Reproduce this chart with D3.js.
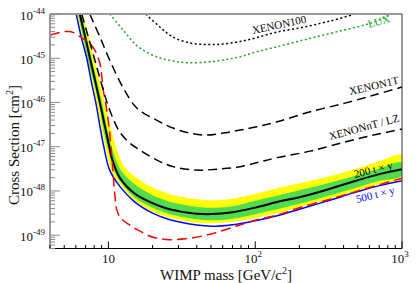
<!DOCTYPE html>
<html>
<head>
<meta charset="utf-8">
<script src="https://cdn.jsdelivr.net/npm/d3@7"></script>
<style>
  html, body { margin: 0; padding: 0; background: #fff; }
  svg { display: block; font-family: "Liberation Serif", "DejaVu Serif", serif; }
</style>
</head>
<body>
<div id="chart"></div>
<script>
// --- data (mass in GeV/c^2, cross section in cm^2) ---
const medianMass = [6.38, 6.96, 7.49, 8.14, 8.74, 9.45, 10.14, 10.55, 12, 15, 20, 25, 30, 40, 50, 70, 100, 150, 200, 300, 500, 700, 1000];
const medianSigma = [1e-44, 3e-45, 1e-45, 3e-46, 1e-46, 3e-47, 1e-47, 5.5e-48, 1.95e-48, 8.9e-49, 5.3e-49, 4.0e-49, 3.5e-49, 3.06e-49, 3.0e-49, 3.3e-49, 4.2e-49, 5.9e-49, 7.2e-49, 1.04e-48, 1.75e-48, 2.4e-48, 3.1e-48];

const blueMass = [6.04, 6.53, 7.12, 7.64, 8.20, 8.74, 9.30, 10.2, 12, 15, 20, 25, 30, 40, 50, 70, 100, 150, 200, 300, 500, 700, 1000];
const blueSigma = [1e-44, 3e-45, 1e-45, 3e-46, 1e-46, 3e-47, 1e-47, 2.96e-48, 1.25e-48, 5.75e-49, 3.15e-49, 2.36e-49, 2.02e-49, 1.70e-49, 1.60e-49, 1.73e-49, 2.13e-49, 2.91e-49, 3.87e-49, 5.73e-49, 9.64e-49, 1.32e-48, 1.71e-48];

const yellowUpMass = [6.69, 7.46, 8.33, 9.30, 10.38, 11.41, 12.94, 15, 20, 25, 30, 40, 50, 70, 100, 150, 200, 300, 500, 700, 1000];
const yellowUpSigma = [1e-44, 2.58e-45, 5.41e-46, 1.13e-46, 2.64e-47, 8.38e-48, 3.45e-48, 2.16e-48, 1.19e-48, 8.9e-49, 7.63e-49, 6.52e-49, 6.19e-49, 6.70e-49, 8.69e-49, 1.22e-48, 1.50e-48, 2.05e-48, 3.28e-48, 4.72e-48, 6.46e-48];
const yellowLowMass = [6.13, 6.79, 7.58, 8.33, 9.02, 9.60, 10.55, 12, 15, 20, 25, 30, 40, 50, 70, 100, 150, 200, 300, 500, 700, 1000];
const yellowLowSigma = [1e-44, 1.99e-45, 3.96e-46, 9.7e-47, 2.38e-47, 9.3e-48, 2.66e-48, 1.43e-48, 6.19e-49, 3.40e-49, 2.62e-49, 2.24e-49, 1.92e-49, 1.87e-49, 2.02e-49, 2.49e-49, 3.31e-49, 4.30e-49, 6.19e-49, 1.02e-48, 1.43e-48, 1.90e-48];

const greenUpMass = [6.53, 7.23, 8.08, 9.02, 9.91, 10.89, 12.15, 15, 20, 25, 30, 40, 50, 70, 100, 150, 200, 300, 500, 700, 1000];
const greenUpSigma = [1e-44, 2.33e-45, 4.87e-46, 1.02e-46, 2.14e-47, 6.81e-48, 2.96e-48, 1.43e-48, 8.04e-49, 6.04e-49, 5.16e-49, 4.42e-49, 4.19e-49, 4.53e-49, 6.04e-49, 8.24e-49, 1.04e-48, 1.43e-48, 2.28e-48, 3.20e-48, 4.37e-48];
const greenLowMass = [6.23, 6.90, 7.70, 8.60, 9.30, 10.06, 11.06, 12, 15, 20, 25, 30, 40, 50, 70, 100, 150, 200, 300, 500, 700, 1000];
const greenLowSigma = [1e-44, 1.99e-45, 4.17e-46, 9.7e-47, 2.14e-47, 7.55e-48, 2.66e-48, 1.67e-48, 7.24e-49, 4.19e-49, 3.15e-49, 2.69e-49, 2.30e-49, 2.18e-49, 2.36e-49, 2.99e-49, 4.08e-49, 5.16e-49, 7.43e-49, 1.22e-48, 1.71e-48, 2.22e-48];

const redMass = [4.0, 5.45, 6.69, 7.46, 8.08, 8.74, 9.02, 9.23, 9.67, 10.06, 10.38, 10.72, 11.06, 11.41, 12.15, 14.0, 16.4, 20.1, 26.2, 35.9, 49.2, 67.4, 100, 148, 200, 324, 520, 1000];
const redSigma = [3.35e-45, 4.02e-45, 2.79e-45, 2.15e-45, 1.53e-45, 7.79e-46, 3.76e-46, 1.91e-46, 7.87e-47, 3.08e-47, 1.09e-47, 2.96e-48, 8.04e-49, 3.68e-49, 2.43e-49, 1.68e-49, 1.23e-49, 9.0e-50, 7.91e-50, 8.55e-50, 1.05e-49, 1.44e-49, 2.18e-49, 2.99e-49, 4.19e-49, 6.52e-49, 1.04e-48, 1.95e-48];

const xenon100Mass = [18.0, 22.4, 27.5, 35.9, 47.0, 60.4, 78.9, 103, 141, 216, 324, 481];
const xenon100Sigma = [1e-44, 5.08e-45, 3.02e-45, 2.21e-45, 2.04e-45, 2.10e-45, 2.39e-45, 2.94e-45, 3.92e-45, 5.08e-45, 6.95e-45, 1e-44];

const luxMass = [10.2, 12.6, 15.95, 21.3, 27.5, 34.1, 46.7, 60.4, 78.9, 102.5, 141, 237, 403, 608, 860];
const luxSigma = [1e-44, 4.35e-45, 1.82e-45, 1.08e-45, 8.65e-46, 7.91e-46, 8.2e-46, 9.1e-46, 1.08e-45, 1.40e-45, 1.82e-45, 2.82e-45, 4.35e-45, 6.16e-45, 1e-44];

const xenon1tMass = [7.46, 8.74, 10.2, 12.5, 15.6, 21.3, 27.5, 35.9, 46.7, 60.4, 78.9, 102.5, 141, 237, 403, 645, 1000];
const xenon1tSigma = [1e-44, 3.06e-45, 9.1e-46, 2.26e-46, 7.47e-47, 4.0e-47, 2.64e-47, 2.03e-47, 1.83e-47, 2.03e-47, 2.38e-47, 2.82e-47, 3.66e-47, 6.16e-47, 9.55e-47, 1.47e-46, 2.23e-46];

const xenonntMass = [6.58, 7.23, 8.08, 9.02, 10.2, 11.96, 14.0, 16.4, 21.4, 27.5, 40.1, 55.0, 78.9, 108, 141, 237, 405, 638, 1000];
const xenonntSigma = [1e-44, 3.35e-45, 9.1e-46, 2.48e-46, 6.73e-47, 2.14e-47, 1.21e-47, 8.38e-48, 4.98e-48, 3.55e-48, 2.96e-48, 3.11e-48, 3.51e-48, 4.55e-48, 5.67e-48, 7.94e-48, 1.27e-47, 1.83e-47, 2.50e-47];

const xTickValues = [10, 100, 1000];
const xTickExp = ['', '2', '3'];
const yTickValues = [1e-44, 1e-45, 1e-46, 1e-47, 1e-48, 1e-49];
const yTickExp = ['-44', '-45', '-46', '-47', '-48', '-49'];

// --- chart ---
const W = 417, H = 283;
const margin = { top: 14, right: 15, bottom: 34.5, left: 50 };

const svg = d3.select('#chart').append('svg')
  .attr('width', W)
  .attr('height', H);

const x = d3.scaleLog().domain([4, 1000]).range([margin.left, W - margin.right]);
const y = d3.scaleLog().domain([5e-50, 1e-44]).range([H - margin.bottom, margin.top]);

svg.append('defs').append('clipPath')
  .attr('id', 'plotClip')
  .append('rect')
  .attr('x', margin.left).attr('y', margin.top)
  .attr('width', x.range()[1] - margin.left)
  .attr('height', y.range()[0] - margin.top);

const plot = svg.append('g').attr('clip-path', 'url(#plotClip)');

const zip = (m, s) => m.map((d, i) => [d, s[i]]);
const line = d3.line().x(d => x(d[0])).y(d => y(d[1])).curve(d3.curveCatmullRom.alpha(0.5));

// bands: upper edge then lower edge reversed
function band(upM, upS, lowM, lowS, color) {
  const pts = zip(upM, upS).concat(zip(lowM, lowS).reverse());
  plot.append('path')
    .datum(pts)
    .attr('fill', color)
    .attr('stroke', 'none')
    .attr('d', d => line(d) + 'Z');
}
band(yellowUpMass, yellowUpSigma, yellowLowMass, yellowLowSigma, '#ffff00');
band(greenUpMass, greenUpSigma, greenLowMass, greenLowSigma, '#4fdc4f');

function curve(m, s, color, w, dash) {
  plot.append('path')
    .datum(zip(m, s))
    .attr('fill', 'none')
    .attr('stroke', color)
    .attr('stroke-width', w)
    .attr('stroke-dasharray', dash || null)
    .attr('d', line);
}
curve(medianMass, medianSigma, '#000', 2);
curve(blueMass, blueSigma, '#0000ff', 1.5);
curve(redMass, redSigma, '#ff0000', 1.5, '10,5');
curve(xenon100Mass, xenon100Sigma, '#000', 1.5, '2,2.5');
curve(luxMass, luxSigma, '#22a822', 1.5, '2,2.5');
curve(xenon1tMass, xenon1tSigma, '#000', 1.5, '9,5');
curve(xenonntMass, xenonntSigma, '#000', 1.5, '9,5');

// curve labels
const labels = [
  { text: 'XENON100', px: 253, py: 34, rot: -12, color: '#000' },
  { text: 'LUX', px: 369, py: 28, rot: -16, color: '#22a822' },
  { text: 'XENON1T', px: 350, py: 95, rot: -13, color: '#000' },
  { text: 'XENONnT / LZ', px: 330, py: 140, rot: -15, color: '#000' },
  { text: '200 t \u00d7 y', px: 355, py: 178, rot: -14, color: '#000' },
  { text: '500 t \u00d7 y', px: 357, py: 203, rot: -14, color: '#0000ff' }
];
svg.selectAll('.clabel')
  .data(labels)
  .join('text')
  .attr('class', 'clabel')
  .attr('transform', d => `translate(${d.px},${d.py}) rotate(${d.rot})`)
  .attr('fill', d => d.color)
  .attr('font-size', '11px')
  .text(d => d.text);

// frame
const x0 = margin.left, x1 = x.range()[1], y0 = margin.top, y1 = y.range()[0];
svg.append('line').attr('x1', x0).attr('x2', x1).attr('y1', y0).attr('y2', y0).attr('stroke', '#999').attr('stroke-width', 2);
svg.append('line').attr('x1', x1).attr('x2', x1).attr('y1', y0).attr('y2', y1).attr('stroke', '#333').attr('stroke-width', 1);
svg.append('line').attr('x1', x0).attr('x2', x1).attr('y1', y1).attr('y2', y1).attr('stroke', '#000').attr('stroke-width', 1);
svg.append('line').attr('x1', x0).attr('x2', x0).attr('y1', y0).attr('y2', y1).attr('stroke', '#999').attr('stroke-width', 2);

// x ticks (inside, upward)
const xMinor = [];
[1, 10, 100].forEach(b => d3.range(2, 10).forEach(k => { if (k * b >= 4 && k * b < 1000) xMinor.push(k * b); }));
svg.selectAll('.xminor').data(xMinor).join('line')
  .attr('x1', d => x(d)).attr('x2', d => x(d))
  .attr('y1', y1).attr('y2', y1 - 3.5)
  .attr('stroke', '#000');
svg.selectAll('.xmajor').data(xTickValues).join('line')
  .attr('x1', d => x(d)).attr('x2', d => x(d))
  .attr('y1', y1).attr('y2', y1 - 7)
  .attr('stroke', '#000');

const xl = svg.selectAll('.xlab').data(xTickValues).join('text')
  .attr('x', (d, i) => x(d) - (xTickExp[i] ? 2 : 0))
  .attr('y', 263)
  .attr('text-anchor', 'middle')
  .attr('font-size', '13px')
  .attr('fill', '#111');
xl.append('tspan').text('10');
xl.append('tspan').attr('dy', -6).attr('font-size', '9px').text((d, i) => xTickExp[i]);

// y ticks (inside, rightward)
const yMinor = [];
d3.range(-50, -44).forEach(e => d3.range(2, 10).forEach(k => {
  const v = k * Math.pow(10, e);
  if (v >= 5e-50 && v < 1e-44) yMinor.push(v);
}));
svg.selectAll('.yminor').data(yMinor).join('line')
  .attr('x1', x0).attr('x2', x0 + 5)
  .attr('y1', d => y(d)).attr('y2', d => y(d))
  .attr('stroke', '#888');
svg.selectAll('.ymajor').data(yTickValues).join('line')
  .attr('x1', x0).attr('x2', x0 + 10)
  .attr('y1', d => y(d)).attr('y2', d => y(d))
  .attr('stroke', '#888');

const yl = svg.selectAll('.ylab').data(yTickValues).join('text')
  .attr('x', 45)
  .attr('y', d => y(d) + 5.5)
  .attr('text-anchor', 'end')
  .attr('font-size', '13px')
  .attr('fill', '#111');
yl.append('tspan').text('10');
yl.append('tspan').attr('dy', -6).attr('font-size', '9px').text((d, i) => yTickExp[i]);

// axis titles
const xt = svg.append('text')
  .attr('x', 226).attr('y', 280)
  .attr('text-anchor', 'middle')
  .attr('font-size', '15px')
  .attr('fill', '#111');
xt.append('tspan').text('WIMP mass [GeV/c');
xt.append('tspan').attr('dy', -6).attr('font-size', '10px').text('2');
xt.append('tspan').attr('dy', 6).text(']');

const yt = svg.append('text')
  .attr('transform', 'translate(19,145) rotate(-90)')
  .attr('text-anchor', 'middle')
  .attr('font-size', '15px')
  .attr('fill', '#111');
yt.append('tspan').text('Cross Section [cm');
yt.append('tspan').attr('dy', -6).attr('font-size', '10px').text('2');
yt.append('tspan').attr('dy', 6).text(']');
</script>
</body>
</html>
